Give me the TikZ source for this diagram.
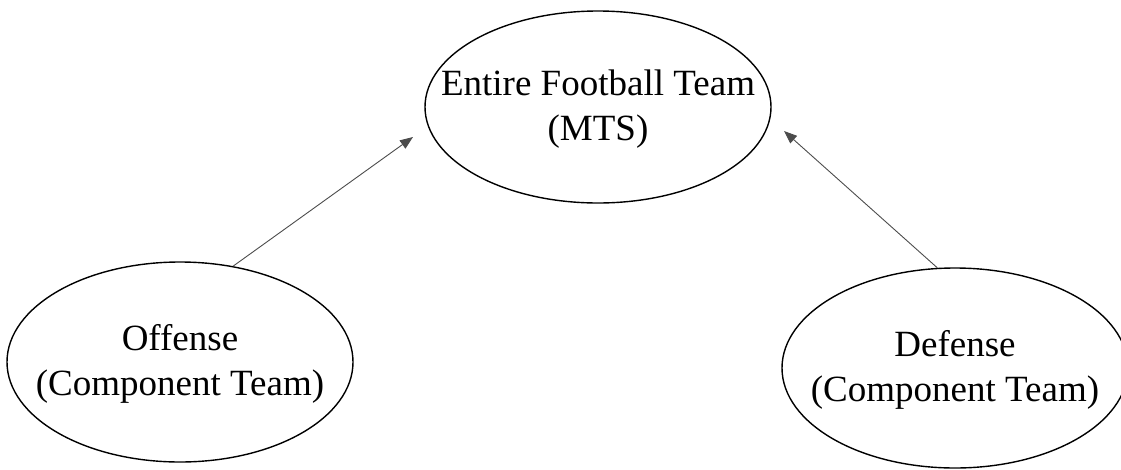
\documentclass[tikz,border=0pt]{standalone}
\usepackage{fontspec}
\setmainfont{Liberation Serif}
\usetikzlibrary{shapes.geometric,arrows.meta}

\tikzset{
  team/.style={draw=black, line width=1.4pt, ellipse, inner sep=0pt,
               minimum width=346pt, minimum height=#1},
  teamtext/.style={align=center, inner sep=0pt,
                   font=\fontsize{37}{45}\selectfont},
  link/.style={draw=black!70, line width=0.9pt,
               -{Triangle[length=13pt,width=10pt]}},
}

\begin{document}
\begin{tikzpicture}[x=1pt,y=-1pt]
  \useasboundingbox (0,0) rectangle (1121,469);

  % whole team and its two component teams
  \node[team=192pt, label={[teamtext,yshift=-2pt]center:Entire Football Team\\(MTS)}]
    (mts) at (598,107) {};
  \node[team=200pt, label={[teamtext,yshift=-2pt]center:Offense\\(Component Team)}]
    (off) at (180,362) {};
  \node[team=200pt, label={[teamtext,yshift=-2pt]center:Defense\\(Component Team)}]
    (def) at (955,368) {};

  % arrow heads stop short of the top ellipse
  \coordinate (offtip) at (413,137);
  \coordinate (deftip) at (784,131);

  \draw[link] (off.61) -- (offtip);
  \draw[link] (def.100) -- (deftip);
\end{tikzpicture}
\end{document}
